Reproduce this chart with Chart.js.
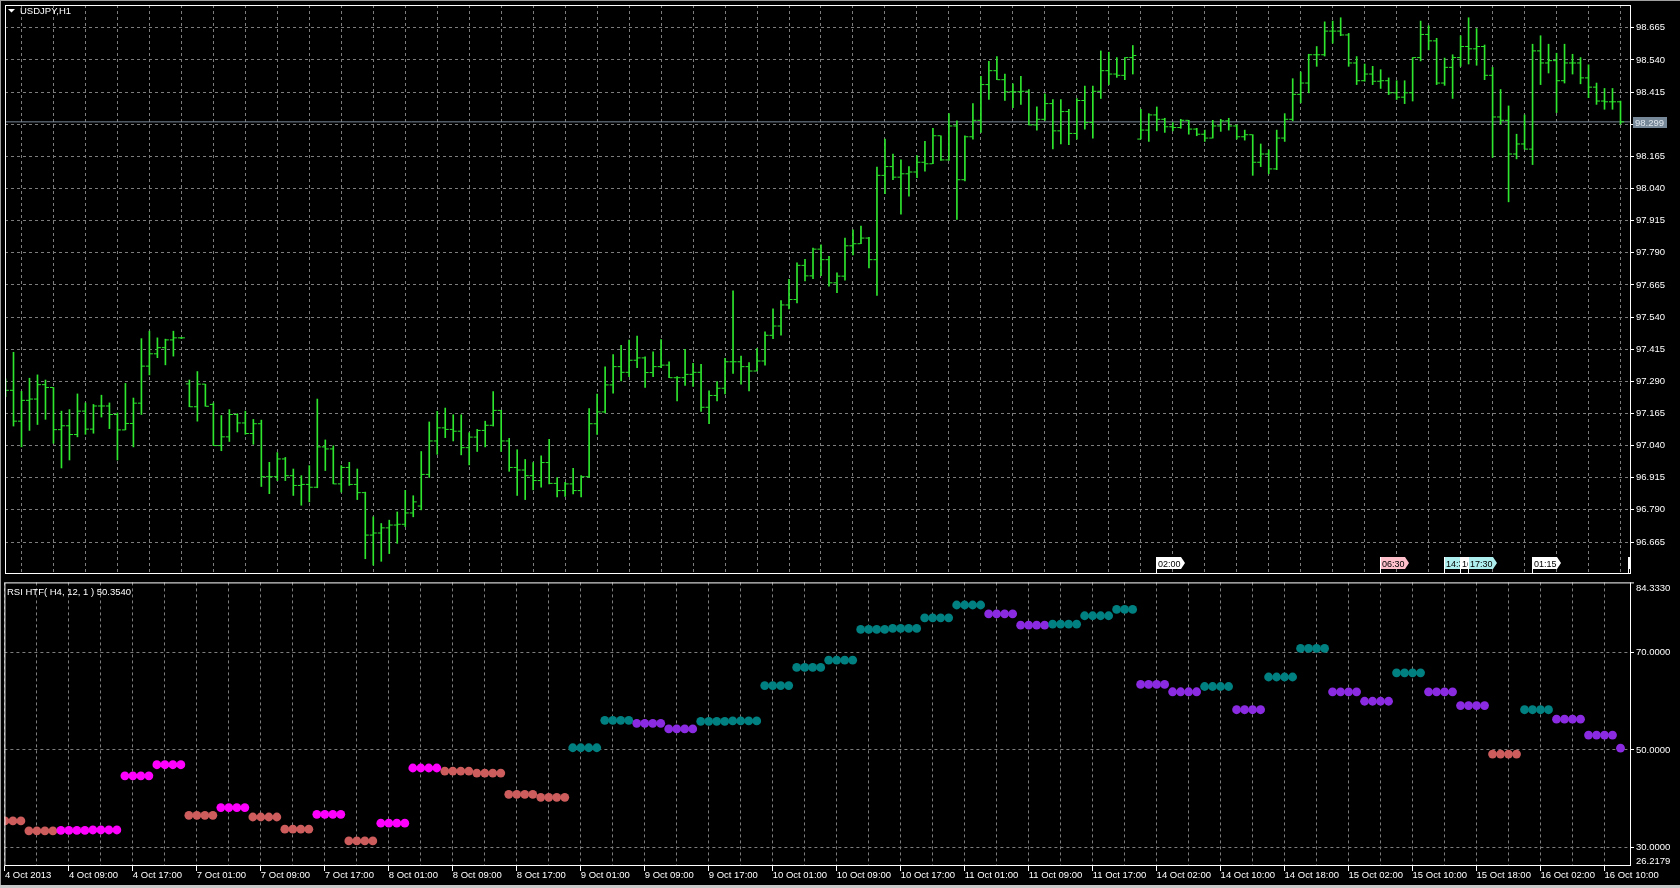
<!DOCTYPE html>
<html><head><meta charset="utf-8">
<script src="https://cdn.jsdelivr.net/npm/chart.js@4.4.1/dist/chart.umd.min.js"></script>
<style>
html,body{margin:0;padding:0;background:#000;width:1680px;height:888px;overflow:hidden}
#top{position:absolute;left:0;top:0;width:1680px;height:578px}
#bot{position:absolute;left:0;top:578px;width:1680px;height:310px}
canvas{display:block}
</style></head><body>
<div id="top"><canvas id="c1" width="1680" height="578"></canvas></div>
<div id="bot"><canvas id="c2" width="1680" height="310"></canvas></div>
<script>
// ---------------- DATA ----------------
const symbol = 'USDJPY,H1';
const xLabels = ['4 Oct 2013','4 Oct 09:00','4 Oct 17:00','7 Oct 01:00','7 Oct 09:00','7 Oct 17:00','8 Oct 01:00','8 Oct 09:00','8 Oct 17:00','9 Oct 01:00','9 Oct 09:00','9 Oct 17:00','10 Oct 01:00','10 Oct 09:00','10 Oct 17:00','11 Oct 01:00','11 Oct 09:00','11 Oct 17:00','14 Oct 02:00','14 Oct 10:00','14 Oct 18:00','15 Oct 02:00','15 Oct 10:00','15 Oct 18:00','16 Oct 02:00','16 Oct 10:00'];
const priceTicks = [98.665,98.540,98.415,98.290,98.165,98.040,97.915,97.790,97.665,97.540,97.415,97.290,97.165,97.040,96.915,96.790,96.665];
const priceMin = 96.5445, priceMax = 98.7535;
const bidPrice = 98.299;

const open = [97.270,97.255,97.135,97.216,97.221,97.277,97.266,97.102,97.117,97.083,97.174,97.104,97.194,97.194,97.161,97.101,97.126,97.205,97.349,97.397,
97.421,97.451,97.459,97.280,97.191,97.279,97.200,97.040,97.074,97.161,97.128,97.087,97.125,96.919,96.919,96.988,96.923,96.885,96.889,96.878,
97.035,97.027,96.891,96.955,96.889,96.857,96.692,96.700,96.720,96.731,96.734,96.778,96.805,96.928,97.058,97.109,97.103,97.096,97.032,97.073,
97.099,97.119,97.177,97.058,96.955,96.945,96.923,96.904,96.974,96.893,96.865,96.891,96.865,96.919,97.125,97.171,97.276,97.347,97.325,97.372,
97.381,97.324,97.347,97.353,97.304,97.304,97.317,97.325,97.189,97.235,97.263,97.366,97.366,97.347,97.330,97.369,97.469,97.505,97.587,97.608,
97.741,97.700,97.804,97.763,97.673,97.699,97.817,97.825,97.847,97.763,98.091,98.125,98.084,98.097,98.104,98.142,98.136,98.245,98.151,98.283,
98.074,98.241,98.305,98.444,98.498,98.463,98.416,98.416,98.418,98.287,98.309,98.370,98.264,98.339,98.254,98.382,98.296,98.418,98.498,98.485,
98.480,98.549,98.232,98.267,98.326,98.309,98.280,98.277,98.305,98.271,98.251,98.236,98.283,98.303,98.283,98.241,98.249,98.142,98.174,98.116,
98.236,98.309,98.406,98.450,98.560,98.560,98.652,98.652,98.637,98.528,98.459,98.485,98.457,98.459,98.412,98.395,98.412,98.549,98.639,98.614,
98.450,98.511,98.549,98.592,98.583,98.592,98.480,98.318,98.305,98.174,98.213,98.193,98.575,98.528,98.537,98.459,98.528,98.528,98.470,98.434,
98.380,98.377,98.377];
const high = [97.300,97.403,97.251,97.302,97.315,97.295,97.266,97.174,97.180,97.241,97.206,97.200,97.236,97.206,97.167,97.282,97.225,97.456,97.485,97.459,
97.454,97.485,97.461,97.295,97.328,97.279,97.206,97.157,97.180,97.164,97.174,97.142,97.139,96.975,97.013,96.994,96.949,96.923,96.962,97.221,
97.062,97.039,96.962,96.975,96.949,96.859,96.763,96.737,96.750,96.782,96.866,96.845,97.017,97.132,97.173,97.186,97.160,97.160,97.090,97.103,
97.135,97.250,97.177,97.068,97.024,96.986,96.974,97.000,97.064,96.916,96.897,96.952,96.923,97.184,97.240,97.346,97.394,97.430,97.450,97.466,
97.385,97.405,97.452,97.366,97.308,97.414,97.360,97.356,97.253,97.289,97.379,97.642,97.388,97.363,97.417,97.482,97.572,97.604,97.687,97.751,
97.764,97.808,97.821,97.776,97.712,97.847,97.879,97.894,97.850,98.123,98.232,98.174,98.151,98.125,98.168,98.223,98.274,98.245,98.331,98.303,
98.245,98.370,98.476,98.534,98.553,98.485,98.447,98.476,98.425,98.357,98.408,98.386,98.386,98.348,98.390,98.438,98.438,98.575,98.570,98.549,
98.549,98.596,98.348,98.331,98.357,98.313,98.296,98.309,98.305,98.274,98.267,98.305,98.309,98.313,98.287,98.267,98.249,98.213,98.190,98.267,
98.331,98.467,98.493,98.562,98.592,98.688,98.691,98.704,98.643,98.553,98.524,98.515,98.502,98.470,98.459,98.459,98.549,98.691,98.673,98.624,
98.547,98.560,98.634,98.704,98.662,98.598,98.511,98.425,98.361,98.251,98.326,98.601,98.634,98.601,98.566,98.601,98.562,98.549,98.521,98.450,
98.429,98.429,98.380];
const low = [97.230,97.116,97.035,97.099,97.122,97.142,97.049,96.953,96.984,97.074,97.084,97.088,97.151,97.106,96.984,97.101,97.035,97.161,97.315,97.382,
97.354,97.388,97.456,97.191,97.135,97.193,97.040,97.020,97.056,97.093,97.084,97.045,96.881,96.853,96.904,96.904,96.846,96.808,96.821,96.876,
96.943,96.891,96.859,96.885,96.830,96.600,96.575,96.590,96.620,96.660,96.725,96.763,96.790,96.916,97.006,97.071,97.058,97.004,96.965,97.017,
97.035,97.116,97.017,96.940,96.846,96.830,96.868,96.878,96.891,96.840,96.842,96.852,96.840,96.916,97.083,97.167,97.244,97.292,97.308,97.343,
97.266,97.308,97.343,97.304,97.214,97.274,97.270,97.173,97.125,97.214,97.241,97.321,97.279,97.253,97.330,97.353,97.456,97.469,97.572,97.595,
97.680,97.689,97.701,97.660,97.635,97.683,97.782,97.825,97.731,97.624,98.020,98.074,97.940,98.010,98.082,98.107,98.136,98.149,98.149,97.920,
98.069,98.232,98.258,98.386,98.463,98.382,98.354,98.367,98.287,98.267,98.305,98.194,98.213,98.210,98.232,98.271,98.236,98.390,98.444,98.472,
98.463,98.485,98.232,98.223,98.264,98.258,98.264,98.274,98.251,98.245,98.223,98.236,98.262,98.267,98.232,98.228,98.091,98.125,98.097,98.113,
98.223,98.303,98.373,98.412,98.515,98.555,98.605,98.634,98.515,98.444,98.457,98.444,98.429,98.405,98.386,98.370,98.380,98.536,98.579,98.444,
98.441,98.390,98.515,98.524,98.519,98.463,98.161,98.290,97.988,98.155,98.193,98.133,98.444,98.489,98.335,98.450,98.485,98.447,98.393,98.367,
98.348,98.348,98.290];
const close = [97.255,97.135,97.216,97.221,97.277,97.266,97.102,97.117,97.083,97.174,97.104,97.194,97.194,97.161,97.101,97.126,97.205,97.349,97.397,97.421,
97.451,97.459,97.459,97.191,97.279,97.193,97.040,97.074,97.161,97.128,97.087,97.125,96.919,96.919,96.988,96.923,96.885,96.889,96.878,97.035,
97.027,96.891,96.955,96.889,96.857,96.692,96.700,96.720,96.731,96.734,96.778,96.821,96.928,97.058,97.109,97.103,97.096,97.032,97.073,97.099,
97.119,97.177,97.058,96.955,96.945,96.923,96.904,96.974,96.893,96.865,96.891,96.865,96.919,97.125,97.171,97.276,97.347,97.325,97.372,97.381,
97.324,97.347,97.353,97.304,97.304,97.317,97.325,97.189,97.235,97.263,97.366,97.366,97.347,97.330,97.369,97.469,97.505,97.587,97.608,97.741,
97.700,97.804,97.763,97.673,97.699,97.817,97.825,97.847,97.763,98.091,98.125,98.084,98.097,98.104,98.142,98.136,98.245,98.151,98.283,98.074,
98.241,98.305,98.444,98.498,98.463,98.416,98.416,98.418,98.287,98.309,98.370,98.264,98.339,98.254,98.382,98.296,98.418,98.498,98.485,98.480,
98.549,98.557,98.267,98.326,98.309,98.280,98.277,98.305,98.271,98.251,98.236,98.283,98.303,98.283,98.241,98.249,98.142,98.174,98.116,98.236,
98.309,98.406,98.450,98.560,98.560,98.652,98.652,98.637,98.528,98.459,98.485,98.457,98.459,98.412,98.395,98.412,98.549,98.639,98.614,98.450,
98.511,98.549,98.592,98.583,98.592,98.480,98.318,98.305,98.174,98.213,98.193,98.575,98.528,98.537,98.459,98.528,98.528,98.470,98.434,98.380,
98.377,98.377,98.299];

// calendar events (bar index, time text, importance)
const evBar = [144,172,180,182,183,191,203];
const evText = ['02:00','06:30','14:30','16:00','17:30','01:15',''];
const evLevel = ['low','high','mid','low','mid','low','low'];

// RSI HTF (H4) — value per H4 block, block start bar, state
const rsiTitle = 'RSI HTF( H4, 12, 1 ) 50.3540';
const rsiMin = 26.2179, rsiMax = 84.3330;
const rsiTicks = [30, 50, 70];
const rsiStart = [0,3,7,11,15,19,23,27,31,35,39,43,47,51,55,59,63,67,71,75,79,83,87,91,95,99,103,107,111,115,119,123,127,131,135,139,142,146,150,154,158,162,166,170,174,178,182,186,190,194,198,202];
const rsiValue = [35.45,33.43,33.50,33.60,44.69,46.97,36.60,38.20,36.26,33.77,36.80,31.35,34.99,46.30,45.67,45.25,40.90,40.30,50.45,56.06,55.45,54.30,55.86,55.95,63.20,66.90,68.40,74.70,74.90,77.07,79.70,77.90,75.56,75.78,77.50,78.80,63.43,61.92,63.00,58.24,64.95,70.80,61.90,59.98,65.80,61.90,59.10,49.15,58.24,56.30,53.05,50.354];
const rsiState = ['lowDn','lowDn','lowUp','lowUp','lowUp','lowUp','lowDn','lowUp','lowDn','lowDn','lowUp','lowDn','lowUp','lowUp','lowDn','lowDn','lowDn','lowDn','hiUp','hiUp','hiDn','hiDn','hiUp','hiUp','hiUp','hiUp','hiUp','hiUp','hiUp','hiUp','hiUp','hiDn','hiDn','hiUp','hiUp','hiUp','hiDn','hiDn','hiUp','hiDn','hiUp','hiUp','hiDn','hiDn','hiUp','hiDn','hiDn','lowDn','hiUp','hiDn','hiDn','hiDn'];

// ---------------- STYLE ----------------
const FONT = '"Liberation Sans", Arial, sans-serif';
const FS = 9.5;
const GREEN = '#2ee62e';
const GRID = '#7d7d7d';
const DASH = [3, 3];
const BID = '#778899';
const stateColor = {lowDn: '#CD5C5C', lowUp: '#FF00FF', hiUp: '#008080', hiDn: '#8A2BE2'};
const evColor = {low: '#ffffff', mid: '#afeeee', high: '#ffc0cb'};
Chart.defaults.font.family = FONT;
Chart.defaults.font.size = FS;
Chart.defaults.color = '#ffffff';

const nBars = close.length;
const xMin = -0.0625, xMax = 203.1875;
const gridBars = [];
for (let i = 0; i < nBars; i += 4) gridBars.push(i);

const hlData = close.map((c, i) => ({x: i, y: [low[i], high[i]]}));
const openData = open.map((o, i) => ({x: i - 0.25, y: o}));
const closeData = close.map((c, i) => ({x: i + 0.25, y: c}));

const rsiData = [], rsiColors = [];
for (let i = 0; i < nBars; i++) {
  let g = 0;
  while (g + 1 < rsiStart.length && rsiStart[g + 1] <= i) g++;
  rsiData.push({x: i, y: rsiValue[g]});
  rsiColors.push(stateColor[rsiState[g]]);
}

function xScale(showLabels) {
  return {
    type: 'linear', position: 'bottom', min: xMin, max: xMax, offset: false,
    afterBuildTicks: s => { s.ticks = gridBars.map(v => ({value: v})); },
    afterFit: s => { s.height = showLabels ? 22 : 0; s.paddingLeft = 0; s.paddingRight = 0; s.paddingTop = 0; s.paddingBottom = 0; },
    grid: {
      display: true, color: GRID, lineWidth: 1, drawOnChartArea: true,
      drawTicks: showLabels, tickLength: 5, tickWidth: 1,
      tickColor: c => (c.tick && c.tick.value % 8 === 0) ? '#ffffff' : 'rgba(0,0,0,0)'
    },
    border: {display: false, dash: DASH},
    ticks: {
      display: showLabels, autoSkip: false, minRotation: 0, maxRotation: 0, align: 'start',
      padding: -1, color: '#ffffff', font: {family: FONT, size: FS},
      callback: v => (v % 8 === 0 && xLabels[v / 8] !== undefined) ? xLabels[v / 8] : ''
    }
  };
}

function frame(ctx, a) {
  ctx.save();
  ctx.strokeStyle = '#ffffff'; ctx.lineWidth = 1;
  ctx.strokeRect(a.left + 0.5, a.top + 0.5, a.right - a.left, a.bottom - a.top);
  ctx.restore();
}

const topDeco = {
  id: 'topDeco',
  afterDatasetsDraw(chart) {
    const {ctx, chartArea: a, scales: {x}} = chart;
    ctx.save();
    ctx.beginPath(); ctx.rect(a.left, a.top, a.right - a.left, a.bottom - a.top); ctx.clip();
    ctx.font = '9px ' + FONT; ctx.textBaseline = 'alphabetic'; ctx.textAlign = 'left';
    evBar.forEach((b, k) => {
      const x0 = Math.floor(x.getPixelForValue(b));
      const t = a.bottom - 16, bt = a.bottom - 4, w = 25;
      ctx.fillStyle = evColor[evLevel[k]];
      ctx.beginPath();
      ctx.moveTo(x0, t); ctx.lineTo(x0 + w, t); ctx.lineTo(x0 + w + 4, (t + bt) / 2);
      ctx.lineTo(x0 + w, bt); ctx.lineTo(x0, bt); ctx.closePath(); ctx.fill();
      ctx.fillStyle = '#ffffff'; ctx.fillRect(x0, t, 1, a.bottom - t);
      ctx.fillStyle = '#000000'; ctx.fillText(evText[k], x0 + 2, bt - 2.5);
    });
    ctx.restore();
  },
  afterDraw(chart) {
    const {ctx, chartArea: a, scales: {y}} = chart;
    frame(ctx, a);
    ctx.save();
    // window edges
    ctx.fillStyle = '#a0a0a0';
    ctx.fillRect(0, 0, 1680, 1); ctx.fillRect(0, 0, 1, 578);
    // title
    ctx.fillStyle = '#ffffff';
    ctx.beginPath(); ctx.moveTo(8, 9); ctx.lineTo(15, 9); ctx.lineTo(11.5, 12.5); ctx.closePath(); ctx.fill();
    ctx.font = FS + 'px ' + FONT; ctx.textBaseline = 'alphabetic'; ctx.textAlign = 'left';
    ctx.fillText(symbol, 20, 14);
    // bid label
    const yb = Math.round(y.getPixelForValue(bidPrice));
    ctx.fillStyle = BID; ctx.fillRect(a.right + 3, yb - 5, 34, 11);
    ctx.fillStyle = '#dfe6ec'; ctx.fillText(bidPrice.toFixed(3), a.right + 5, yb + 4);
    ctx.restore();
  }
};

const botDeco = {
  id: 'botDeco',
  afterDraw(chart) {
    const {ctx, chartArea: a, scales: {y}} = chart;
    ctx.save();
    ctx.strokeStyle = '#ffffff'; ctx.lineWidth = 1;
    ctx.strokeRect(a.left + 0.5, a.top + 0.5, a.right - a.left, a.bottom - a.top - 1);
    ctx.fillStyle = '#a0a0a0'; ctx.fillRect(0, 0, 1, 310);
    ctx.fillStyle = '#c8c8c8'; ctx.fillRect(0, 307, 1680, 3);
    ctx.fillStyle = '#ffffff';
    ctx.font = FS + 'px ' + FONT; ctx.textBaseline = 'alphabetic'; ctx.textAlign = 'left';
    ctx.fillText(rsiTitle, 7, a.top + 13);
    // min / max labels of the RSI scale (placed inside the pane like MT4)
    ctx.fillText(y.max.toFixed(4), a.right + 6, a.top + 9);
    ctx.fillText(y.min.toFixed(4), a.right + 6, a.bottom - 2);
    ctx.fillRect(a.right, a.top, 4, 1);
    ctx.restore();
  }
};

const common = {
  responsive: false, animation: false, events: [],
  plugins: {legend: {display: false}, tooltip: {enabled: false}}
};

new Chart(document.getElementById('c1'), {
  type: 'scatter',
  data: {datasets: [
    {type: 'line', data: [{x: xMin, y: bidPrice}, {x: xMax, y: bidPrice}], borderColor: BID, borderWidth: 1, pointRadius: 0, order: 4},
    {type: 'bar', data: hlData, backgroundColor: GREEN, borderWidth: 0, barThickness: 1, grouped: false, order: 3},
    {type: 'scatter', data: openData, pointStyle: 'line', pointRadius: 1.5, pointBorderWidth: 1, pointBorderColor: GREEN, pointBackgroundColor: GREEN, order: 2},
    {type: 'scatter', data: closeData, pointStyle: 'line', pointRadius: 1.5, pointBorderWidth: 1, pointBorderColor: GREEN, pointBackgroundColor: GREEN, order: 1}
  ]},
  options: Object.assign({}, common, {
    layout: {padding: {top: 3, left: 4, right: 0, bottom: 1}},
    scales: {
      x: xScale(false),
      y: {
        type: 'linear', position: 'right', min: priceMin, max: priceMax,
        afterBuildTicks: s => { s.ticks = priceTicks.map(v => ({value: v})); },
        afterFit: s => { s.width = 50; s.paddingTop = 0; s.paddingBottom = 0; },
        grid: {color: GRID, lineWidth: 1, drawTicks: true, tickLength: 4, tickColor: '#ffffff'},
        border: {display: false, dash: DASH},
        ticks: {autoSkip: false, padding: 2, color: '#ffffff', font: {family: FONT, size: FS},
          callback: v => Math.abs(v - bidPrice) < 0.02 ? '' : v.toFixed(3)}
      }
    }
  }),
  plugins: [topDeco]
});

new Chart(document.getElementById('c2'), {
  type: 'scatter',
  data: {datasets: [
    {type: 'scatter', data: rsiData, pointRadius: 4.4, pointBorderWidth: 0, pointBackgroundColor: rsiColors, pointBorderColor: rsiColors}
  ]},
  options: Object.assign({}, common, {
    layout: {padding: {top: 1, left: 4, right: 0, bottom: 0}},
    scales: {
      x: xScale(true),
      y: {
        type: 'linear', position: 'right', min: rsiMin, max: rsiMax,
        afterBuildTicks: s => { s.ticks = rsiTicks.map(v => ({value: v})); },
        afterFit: s => { s.width = 50; s.paddingTop = 0; s.paddingBottom = 0; },
        grid: {color: GRID, lineWidth: 1, drawTicks: true, tickLength: 4, tickColor: '#ffffff'},
        border: {display: false, dash: DASH},
        ticks: {autoSkip: false, padding: 2, color: '#ffffff', font: {family: FONT, size: FS},
          callback: v => v.toFixed(4)}
      }
    }
  }),
  plugins: [botDeco]
});
</script>
</body></html>
